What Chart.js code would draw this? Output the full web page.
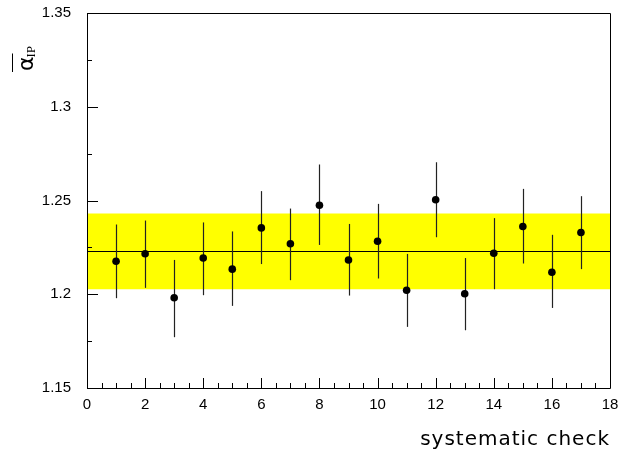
<!DOCTYPE html>
<html>
<head>
<meta charset="utf-8">
<script src="https://cdn.jsdelivr.net/npm/chart.js@4"></script>
<style>
  html, body { margin: 0; padding: 0; background: #fff; }
  #wrap { width: 629px; height: 454px; }
</style>
</head>
<body>
<div id="wrap"><canvas id="myChart" width="629" height="454"></canvas></div>
<script>
// systematic checks 1..17
const checks = [1, 2, 3, 4, 5, 6, 7, 8, 9, 10, 11, 12, 13, 14, 15, 16, 17];
const alphaIP = [1.2176, 1.2216, 1.1981, 1.2193, 1.2134, 1.2354, 1.2269, 1.2475, 1.2183,
                 1.2283, 1.2021, 1.2504, 1.2003, 1.2219, 1.2361, 1.2117, 1.2329];
const errLow = [1.1979, 1.2034, 1.1771, 1.1995, 1.1938, 1.2161, 1.2075, 1.2263, 1.1993,
                1.2084, 1.1826, 1.2304, 1.1808, 1.2027, 1.2164, 1.1927, 1.2134];
const errHigh = [1.2372, 1.2393, 1.2183, 1.2383, 1.2335, 1.2550, 1.2457, 1.2692, 1.2375,
                 1.2482, 1.2215, 1.2704, 1.2193, 1.2406, 1.2562, 1.2317, 1.2523];
const meanValue = 1.2228;
const bandLow = 1.2027;
const bandHigh = 1.2431;
const xRange = [0, 18];
const yRange = [1.15, 1.35];

const font = "'Liberation Sans', Arial, sans-serif";

// inward ticks, frame, error bars and axis titles
const decorPlugin = {
  id: "decor",
  afterDatasetDraw(chart, args) {
    if (args.index !== 2) return; // right after the mean line, before the points
    const { ctx, scales: { x, y } } = chart;
    ctx.save();
    ctx.strokeStyle = "#222";
    ctx.lineWidth = 1.2;
    for (let i = 0; i < checks.length; i++) {
      const px = Math.round(x.getPixelForValue(checks[i])) + 0.5;
      ctx.beginPath();
      ctx.moveTo(px, y.getPixelForValue(errLow[i]));
      ctx.lineTo(px, y.getPixelForValue(errHigh[i]));
      ctx.stroke();
    }
    ctx.restore();
  },
  afterDraw(chart) {
    const { ctx, chartArea: a, scales: { x, y } } = chart;
    ctx.save();
    ctx.strokeStyle = "#000";
    ctx.lineWidth = 1;
    // frame
    ctx.beginPath();
    ctx.moveTo(a.left + 0.5, a.bottom + 0.5);
    ctx.lineTo(a.left + 0.5, a.top + 0.5);
    ctx.lineTo(a.right + 0.5, a.top + 0.5);
    ctx.lineTo(a.right + 0.5, a.bottom + 0.5);
    ctx.lineTo(a.left + 0.5, a.bottom + 0.5);
    ctx.stroke();
    // x ticks
    ctx.beginPath();
    for (let v = xRange[0]; v <= xRange[1] + 1e-9; v += 0.5) {
      const px = Math.round(x.getPixelForValue(v)) + 0.5;
      const len = Math.abs(v % 2) < 1e-9 ? 10 : 5;
      ctx.moveTo(px, a.bottom);
      ctx.lineTo(px, a.bottom - len);
    }
    // y ticks
    for (let v = yRange[0]; v <= yRange[1] + 1e-9; v += 0.025) {
      const py = Math.round(y.getPixelForValue(v)) + 0.5;
      const major = Math.abs(Math.round(v / 0.05) * 0.05 - v) < 1e-6;
      ctx.moveTo(a.left, py);
      ctx.lineTo(a.left + (major ? 11 : 5), py);
    }
    ctx.stroke();

    // x title
    ctx.fillStyle = "#000";
    ctx.font = "20px 'DejaVu Sans', sans-serif";
    ctx.letterSpacing = "1px";
    ctx.textAlign = "right";
    ctx.textBaseline = "alphabetic";
    ctx.fillText("systematic check", 610, 445);
    ctx.letterSpacing = "0px";

    // y title: overlined alpha with subscript IP, rotated
    ctx.translate(33, 71);
    ctx.rotate(-Math.PI / 2);
    ctx.textAlign = "left";
    ctx.font = "22px 'DejaVu Sans', sans-serif";
    ctx.fillText("α", 0, 0);
    const w = ctx.measureText("α").width;
    ctx.font = "13px 'Liberation Serif', serif";
    ctx.fillText("IP", w - 1, 2);
    ctx.beginPath();
    ctx.moveTo(-1, -20.5);
    ctx.lineTo(w + 3, -20.5);
    ctx.stroke();
    ctx.restore();
  }
};

const ctx = document.getElementById("myChart").getContext("2d");
const myChart = new Chart(ctx, {
  type: "scatter",
  data: {
    datasets: [
      {
        label: "band high",
        type: "line",
        data: [{ x: xRange[0], y: bandHigh }, { x: xRange[1], y: bandHigh }],
        borderWidth: 0,
        pointRadius: 0,
        backgroundColor: "#ffff00",
        fill: "+1",
        order: 3,
      },
      {
        label: "band low",
        type: "line",
        data: [{ x: xRange[0], y: bandLow }, { x: xRange[1], y: bandLow }],
        borderWidth: 0,
        pointRadius: 0,
        fill: false,
        order: 3,
      },
      {
        label: "mean",
        type: "line",
        data: [{ x: xRange[0], y: meanValue }, { x: xRange[1], y: meanValue }],
        borderColor: "#000",
        borderWidth: 1,
        pointRadius: 0,
        fill: false,
        order: 2,
      },
      {
        label: "alpha IP",
        data: checks.map((c, i) => ({ x: c, y: alphaIP[i] })),
        backgroundColor: "#000",
        borderColor: "#000",
        pointRadius: 3.8,
        borderWidth: 0,
        order: 1,
      },
    ],
  },
  options: {
    responsive: false,
    animation: false,
    layout: { padding: { top: 13, right: 19, left: 0, bottom: 0 } },
    scales: {
      x: {
        type: "linear",
        min: xRange[0],
        max: xRange[1],
        grid: { display: false, drawTicks: false },
        border: { display: false },
        ticks: {
          stepSize: 2,
          color: "#000",
          padding: 8,
          font: { family: font, size: 15 },
          maxRotation: 0,
        },
        afterFit(axis) {
          axis.height = 66;
          axis.paddingLeft = 0;
          axis.paddingRight = 0;
        },
      },
      y: {
        min: yRange[0],
        max: yRange[1],
        grid: { display: false, drawTicks: false },
        border: { display: false },
        ticks: {
          stepSize: 0.05,
          color: "#000",
          padding: 16,
          font: { family: font, size: 15 },
          callback: (v) => String(Math.round(v * 100) / 100),
        },
        afterFit(axis) {
          axis.width = 87;
          axis.paddingTop = 0;
          axis.paddingBottom = 0;
        },
      },
    },
    plugins: {
      legend: { display: false },
      tooltip: { enabled: false },
    },
  },
  plugins: [decorPlugin],
});
</script>
</body>
</html>
